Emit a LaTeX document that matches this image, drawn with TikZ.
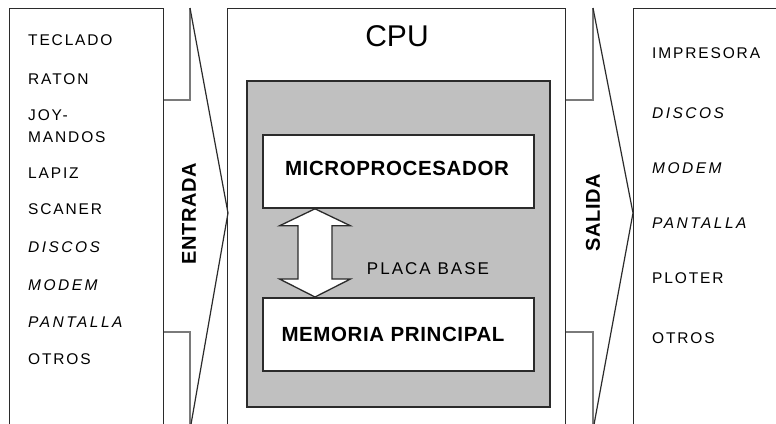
\documentclass[tikz,border=0pt]{standalone}
\usepackage{fontspec}
\usetikzlibrary{calc}
\setmainfont{Liberation Sans}
\newfontfamily\listfont[LetterSpace=12]{Liberation Sans}
\newfontfamily\slantfont[LetterSpace=16]{Liberation Sans}
\newfontfamily\headfont[LetterSpace=3]{Liberation Sans}
\definecolor{edge}{HTML}{2B2B2B}
\definecolor{link}{HTML}{7A7A7A}
\definecolor{board}{HTML}{C0C0C0}
\tikzset{
  frame/.style={draw=edge, line width=1.3pt, fill=white, anchor=north west, inner sep=0pt},
  unit/.style={draw=edge, line width=1.8pt, fill=white, anchor=north west, inner sep=0pt,
               minimum width=271pt, minimum height=73pt},
  item/.style={anchor=west, inner sep=0pt, font=\listfont\fontsize{15.5}{22}\selectfont, align=left},
  sitem/.style={item, font=\slantfont\itshape\fontsize{15.5}{22}\selectfont},
  unitlabel/.style={font=\headfont\bfseries\fontsize{20.5}{22}\selectfont},
  flowlabel/.style={font=\headfont\bfseries\fontsize{20}{22}\selectfont, rotate=90},
  feed/.style={draw=link, line width=1.6pt},
  chevron/.style={draw=edge, line width=1.2pt},
}
\begin{document}
\begin{tikzpicture}[x=1pt, y=-1pt]
  \clip (0,0) rectangle (776,423);
  \fill[white] (0,0) rectangle (776,423);

  % main blocks: input devices, CPU, output devices
  \node[frame, minimum width=154pt, minimum height=430pt] (inbox) at (9,7.5) {};
  \node[frame, minimum width=338pt, minimum height=430pt] (cpu) at (227,7.5) {};
  \node[frame, minimum width=160pt, minimum height=430pt] (outbox) at (633,7.5) {};

  % motherboard with processor and main memory
  \node[draw=edge, line width=1.8pt, fill=board, anchor=north west, inner sep=0pt,
        minimum width=303pt, minimum height=326pt] (board) at (246,80) {};
  \node[unit] (micro) at (262,134) {};
  \node[unitlabel] (microtxt) at (397,168) {MICROPROCESADOR};
  \node[unit] (mem) at (262,297) {};
  \node[unitlabel] (memtxt) at (393,334) {MEMORIA PRINCIPAL};

  \node[font=\fontsize{30}{32}\selectfont] (cputxt) at (397,36) {CPU};
  \node[font=\listfont\fontsize{17}{18}\selectfont] (placa) at (428,269) {PLACA BASE};

  % bus between processor and memory
  \coordinate (bt) at ($(micro.south west)+(53,0)$);
  \coordinate (bb) at ($(mem.north west)+(53,0)$);
  \draw[draw=edge, line width=1.3pt, fill=white]
    (bt) -- ++(35.5,17) -- ++(-18.5,0) -- ($(bb)+(17,-18)$) -- ++(18.5,0) -- (bb)
    -- ++(-35.5,-18) -- ++(18.5,0) -- ($(bt)+(-17,17)$) -- ++(-18.5,0) -- cycle;

  % input arrow
  \coordinate (inTop) at (190,8);
  \coordinate (inTip) at (228,213);
  \coordinate (inBot) at (190,430);
  \draw[feed] (inbox.east |- 0,100) -- (190,100) -- (inTop);
  \draw[feed] (inbox.east |- 0,332) -- (190,332) -- (inBot);
  \draw[chevron] (inTop) -- (inTip) -- (inBot);
  \node[flowlabel] (entrada) at (189,214) {ENTRADA};

  % output arrow
  \coordinate (outTop) at (593,8);
  \coordinate (outTip) at (633,213);
  \coordinate (outBot) at (593,430);
  \draw[feed] (cpu.east |- 0,100) -- (593,100) -- (outTop);
  \draw[feed] (cpu.east |- 0,332) -- (593,332) -- (outBot);
  \draw[chevron] (outTop) -- (outTip) -- (outBot);
  \node[flowlabel] (salida) at (593,213) {SALIDA};

  % input devices
  \node[item] (i1) at (28,40) {TECLADO};
  \node[item] (i2) at (28,79) {RATON};
  \node[item] (i3) at (28,126) {JOY-\\MANDOS};
  \node[item] (i4) at (28,173) {LAPIZ};
  \node[item] (i5) at (28,209) {SCANER};
  \node[sitem] (i6) at (28,247) {DISCOS};
  \node[sitem] (i7) at (28,285) {MODEM};
  \node[sitem] (i8) at (28,322) {PANTALLA};
  \node[item] (i9) at (28,359) {OTROS};

  % output devices
  \node[item] (o1) at (652,53) {IMPRESORA};
  \node[sitem] (o2) at (652,113) {DISCOS};
  \node[sitem] (o3) at (652,168) {MODEM};
  \node[sitem] (o4) at (652,223) {PANTALLA};
  \node[item] (o5) at (652,278) {PLOTER};
  \node[item] (o6) at (652,338) {OTROS};
\end{tikzpicture}
\end{document}
